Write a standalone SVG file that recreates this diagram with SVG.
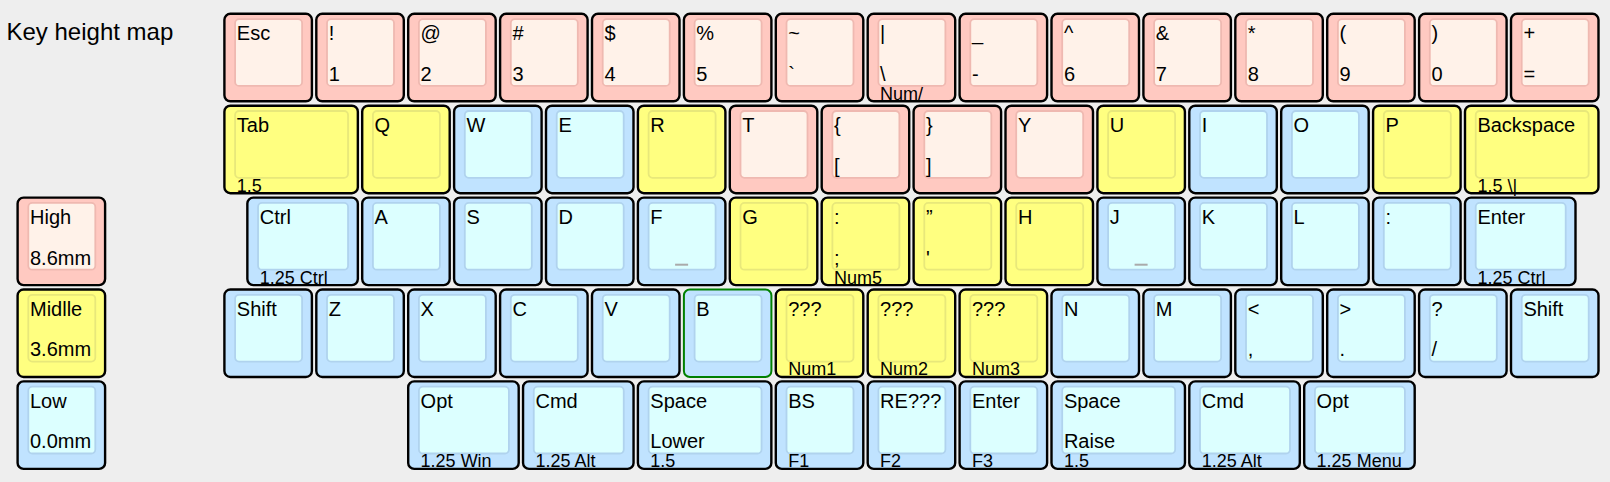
<svg xmlns="http://www.w3.org/2000/svg" width="1610" height="482" viewBox="0 0 1610 482">
<style>
text{font-family:"Liberation Sans",Arial,Helvetica,sans-serif;fill:#000}
.t{font-size:20px}
.f{font-size:18px}
.title{font-size:24px}
.o{stroke:#000;stroke-width:2.4}
.i{stroke-width:1.8}
.hi .o{fill:#ffc9c1}.hi .i{fill:#fff2e9;stroke:#efb9b1}
.mi .o{fill:#ffff80}.mi .i{fill:#ffff80;stroke:#e8e87a}
.lo .o{fill:#c0e3ff}.lo .i{fill:#dcffff;stroke:#b0d3ee}
.sel .o{stroke:#008000;stroke-width:2}
.nub{fill:#aaaaaa}
</style>
<rect width="1610" height="482" fill="#eeeeee"/>
<text class="title" x="6.5" y="40">Key height map</text>

<g id="legend-high" class="hi" transform="translate(16.5,196.5)"><rect class="o" x="1.1" y="1.1" width="87.5" height="87.5" rx="6"/><rect class="i" x="11.8" y="6.4" width="67" height="66.8" rx="4"/><text class="t" x="13.5" y="27.5">High</text><text class="t" x="13.5" y="68">8.6mm</text></g>
<g id="legend-middle" class="mi" transform="translate(16.5,288.4)"><rect class="o" x="1.1" y="1.1" width="87.5" height="87.5" rx="6"/><rect class="i" x="11.8" y="6.4" width="67" height="66.8" rx="4"/><text class="t" x="13.5" y="27.5">Midlle</text><text class="t" x="13.5" y="68">3.6mm</text></g>
<g id="legend-low" class="lo" transform="translate(16.5,380.3)"><rect class="o" x="1.1" y="1.1" width="87.5" height="87.5" rx="6"/><rect class="i" x="11.8" y="6.4" width="67" height="66.8" rx="4"/><text class="t" x="13.5" y="27.5">Low</text><text class="t" x="13.5" y="68">0.0mm</text></g>

<g id="row0">
<g id="k-esc" class="hi" transform="translate(223.3,12.7)"><rect class="o" x="1.1" y="1.1" width="87.5" height="87.5" rx="6"/><rect class="i" x="11.8" y="6.4" width="67" height="66.8" rx="4"/><text class="t" x="13.5" y="27.5">Esc</text></g>
<g id="k-1" class="hi" transform="translate(315.2,12.7)"><rect class="o" x="1.1" y="1.1" width="87.5" height="87.5" rx="6"/><rect class="i" x="11.8" y="6.4" width="67" height="66.8" rx="4"/><text class="t" x="13.5" y="27.5">!</text><text class="t" x="13.5" y="68">1</text></g>
<g id="k-2" class="hi" transform="translate(407.1,12.7)"><rect class="o" x="1.1" y="1.1" width="87.5" height="87.5" rx="6"/><rect class="i" x="11.8" y="6.4" width="67" height="66.8" rx="4"/><text class="t" x="13.5" y="27.5">@</text><text class="t" x="13.5" y="68">2</text></g>
<g id="k-3" class="hi" transform="translate(499,12.7)"><rect class="o" x="1.1" y="1.1" width="87.5" height="87.5" rx="6"/><rect class="i" x="11.8" y="6.4" width="67" height="66.8" rx="4"/><text class="t" x="13.5" y="27.5">#</text><text class="t" x="13.5" y="68">3</text></g>
<g id="k-4" class="hi" transform="translate(590.9,12.7)"><rect class="o" x="1.1" y="1.1" width="87.5" height="87.5" rx="6"/><rect class="i" x="11.8" y="6.4" width="67" height="66.8" rx="4"/><text class="t" x="13.5" y="27.5">$</text><text class="t" x="13.5" y="68">4</text></g>
<g id="k-5" class="hi" transform="translate(682.8,12.7)"><rect class="o" x="1.1" y="1.1" width="87.5" height="87.5" rx="6"/><rect class="i" x="11.8" y="6.4" width="67" height="66.8" rx="4"/><text class="t" x="13.5" y="27.5">%</text><text class="t" x="13.5" y="68">5</text></g>
<g id="k-grave" class="hi" transform="translate(774.7,12.7)"><rect class="o" x="1.1" y="1.1" width="87.5" height="87.5" rx="6"/><rect class="i" x="11.8" y="6.4" width="67" height="66.8" rx="4"/><text class="t" x="13.5" y="27.5">~</text><text class="t" x="13.5" y="68">`</text></g>
<g id="k-bslash" class="hi" transform="translate(866.6,12.7)"><rect class="o" x="1.1" y="1.1" width="87.5" height="87.5" rx="6"/><rect class="i" x="11.8" y="6.4" width="67" height="66.8" rx="4"/><text class="t" x="13.5" y="27.5">|</text><text class="t" x="13.5" y="68">\</text><text class="f" x="13.5" y="87">Num/</text></g>
<g id="k-minus" class="hi" transform="translate(958.5,12.7)"><rect class="o" x="1.1" y="1.1" width="87.5" height="87.5" rx="6"/><rect class="i" x="11.8" y="6.4" width="67" height="66.8" rx="4"/><text class="t" x="13.5" y="27.5">_</text><text class="t" x="13.5" y="68">-</text></g>
<g id="k-6" class="hi" transform="translate(1050.4,12.7)"><rect class="o" x="1.1" y="1.1" width="87.5" height="87.5" rx="6"/><rect class="i" x="11.8" y="6.4" width="67" height="66.8" rx="4"/><text class="t" x="13.5" y="27.5">^</text><text class="t" x="13.5" y="68">6</text></g>
<g id="k-7" class="hi" transform="translate(1142.3,12.7)"><rect class="o" x="1.1" y="1.1" width="87.5" height="87.5" rx="6"/><rect class="i" x="11.8" y="6.4" width="67" height="66.8" rx="4"/><text class="t" x="13.5" y="27.5">&amp;</text><text class="t" x="13.5" y="68">7</text></g>
<g id="k-8" class="hi" transform="translate(1234.2,12.7)"><rect class="o" x="1.1" y="1.1" width="87.5" height="87.5" rx="6"/><rect class="i" x="11.8" y="6.4" width="67" height="66.8" rx="4"/><text class="t" x="13.5" y="27.5">*</text><text class="t" x="13.5" y="68">8</text></g>
<g id="k-9" class="hi" transform="translate(1326.1,12.7)"><rect class="o" x="1.1" y="1.1" width="87.5" height="87.5" rx="6"/><rect class="i" x="11.8" y="6.4" width="67" height="66.8" rx="4"/><text class="t" x="13.5" y="27.5">(</text><text class="t" x="13.5" y="68">9</text></g>
<g id="k-0" class="hi" transform="translate(1418,12.7)"><rect class="o" x="1.1" y="1.1" width="87.5" height="87.5" rx="6"/><rect class="i" x="11.8" y="6.4" width="67" height="66.8" rx="4"/><text class="t" x="13.5" y="27.5">)</text><text class="t" x="13.5" y="68">0</text></g>
<g id="k-equal" class="hi" transform="translate(1509.9,12.7)"><rect class="o" x="1.1" y="1.1" width="87.5" height="87.5" rx="6"/><rect class="i" x="11.8" y="6.4" width="67" height="66.8" rx="4"/><text class="t" x="13.5" y="27.5">+</text><text class="t" x="13.5" y="68">=</text></g>
</g>

<g id="row1">
<g id="k-tab" class="mi" transform="translate(223.3,104.6)"><rect class="o" x="1.1" y="1.1" width="133.45" height="87.5" rx="6"/><rect class="i" x="11.8" y="6.4" width="112.95" height="66.8" rx="4"/><text class="t" x="13.5" y="27.5">Tab</text><text class="f" x="13.5" y="87">1.5</text></g>
<g id="k-q" class="mi" transform="translate(361.1,104.6)"><rect class="o" x="1.1" y="1.1" width="87.5" height="87.5" rx="6"/><rect class="i" x="11.8" y="6.4" width="67" height="66.8" rx="4"/><text class="t" x="13.5" y="27.5">Q</text></g>
<g id="k-w" class="lo" transform="translate(453,104.6)"><rect class="o" x="1.1" y="1.1" width="87.5" height="87.5" rx="6"/><rect class="i" x="11.8" y="6.4" width="67" height="66.8" rx="4"/><text class="t" x="13.5" y="27.5">W</text></g>
<g id="k-e" class="lo" transform="translate(544.9,104.6)"><rect class="o" x="1.1" y="1.1" width="87.5" height="87.5" rx="6"/><rect class="i" x="11.8" y="6.4" width="67" height="66.8" rx="4"/><text class="t" x="13.5" y="27.5">E</text></g>
<g id="k-r" class="mi" transform="translate(636.8,104.6)"><rect class="o" x="1.1" y="1.1" width="87.5" height="87.5" rx="6"/><rect class="i" x="11.8" y="6.4" width="67" height="66.8" rx="4"/><text class="t" x="13.5" y="27.5">R</text></g>
<g id="k-t" class="hi" transform="translate(728.7,104.6)"><rect class="o" x="1.1" y="1.1" width="87.5" height="87.5" rx="6"/><rect class="i" x="11.8" y="6.4" width="67" height="66.8" rx="4"/><text class="t" x="13.5" y="27.5">T</text></g>
<g id="k-lbrace" class="hi" transform="translate(820.6,104.6)"><rect class="o" x="1.1" y="1.1" width="87.5" height="87.5" rx="6"/><rect class="i" x="11.8" y="6.4" width="67" height="66.8" rx="4"/><text class="t" x="13.5" y="27.5">{</text><text class="t" x="13.5" y="68">[</text></g>
<g id="k-rbrace" class="hi" transform="translate(912.5,104.6)"><rect class="o" x="1.1" y="1.1" width="87.5" height="87.5" rx="6"/><rect class="i" x="11.8" y="6.4" width="67" height="66.8" rx="4"/><text class="t" x="13.5" y="27.5">}</text><text class="t" x="13.5" y="68">]</text></g>
<g id="k-y" class="hi" transform="translate(1004.4,104.6)"><rect class="o" x="1.1" y="1.1" width="87.5" height="87.5" rx="6"/><rect class="i" x="11.8" y="6.4" width="67" height="66.8" rx="4"/><text class="t" x="13.5" y="27.5">Y</text></g>
<g id="k-u" class="mi" transform="translate(1096.3,104.6)"><rect class="o" x="1.1" y="1.1" width="87.5" height="87.5" rx="6"/><rect class="i" x="11.8" y="6.4" width="67" height="66.8" rx="4"/><text class="t" x="13.5" y="27.5">U</text></g>
<g id="k-i" class="lo" transform="translate(1188.2,104.6)"><rect class="o" x="1.1" y="1.1" width="87.5" height="87.5" rx="6"/><rect class="i" x="11.8" y="6.4" width="67" height="66.8" rx="4"/><text class="t" x="13.5" y="27.5">I</text></g>
<g id="k-o" class="lo" transform="translate(1280.1,104.6)"><rect class="o" x="1.1" y="1.1" width="87.5" height="87.5" rx="6"/><rect class="i" x="11.8" y="6.4" width="67" height="66.8" rx="4"/><text class="t" x="13.5" y="27.5">O</text></g>
<g id="k-p" class="mi" transform="translate(1372,104.6)"><rect class="o" x="1.1" y="1.1" width="87.5" height="87.5" rx="6"/><rect class="i" x="11.8" y="6.4" width="67" height="66.8" rx="4"/><text class="t" x="13.5" y="27.5">P</text></g>
<g id="k-bksp" class="mi" transform="translate(1463.9,104.6)"><rect class="o" x="1.1" y="1.1" width="133.45" height="87.5" rx="6"/><rect class="i" x="11.8" y="6.4" width="112.95" height="66.8" rx="4"/><text class="t" x="13.5" y="27.5">Backspace</text><text class="f" x="13.5" y="87">1.5 \|</text></g>
</g>

<g id="row2">
<g id="k-ctrl" class="lo" transform="translate(246.25,196.5)"><rect class="o" x="1.1" y="1.1" width="110.5" height="87.5" rx="6"/><rect class="i" x="11.8" y="6.4" width="90" height="66.8" rx="4"/><text class="t" x="13.5" y="27.5">Ctrl</text><text class="f" x="13.5" y="87">1.25 Ctrl</text></g>
<g id="k-a" class="lo" transform="translate(361.1,196.5)"><rect class="o" x="1.1" y="1.1" width="87.5" height="87.5" rx="6"/><rect class="i" x="11.8" y="6.4" width="67" height="66.8" rx="4"/><text class="t" x="13.5" y="27.5">A</text></g>
<g id="k-s" class="lo" transform="translate(453,196.5)"><rect class="o" x="1.1" y="1.1" width="87.5" height="87.5" rx="6"/><rect class="i" x="11.8" y="6.4" width="67" height="66.8" rx="4"/><text class="t" x="13.5" y="27.5">S</text></g>
<g id="k-d" class="lo" transform="translate(544.9,196.5)"><rect class="o" x="1.1" y="1.1" width="87.5" height="87.5" rx="6"/><rect class="i" x="11.8" y="6.4" width="67" height="66.8" rx="4"/><text class="t" x="13.5" y="27.5">D</text></g>
<g id="k-f" class="lo" transform="translate(636.8,196.5)"><rect class="o" x="1.1" y="1.1" width="87.5" height="87.5" rx="6"/><rect class="i" x="11.8" y="6.4" width="67" height="66.8" rx="4"/><rect class="nub" x="38.3" y="67.2" width="13" height="2"/><text class="t" x="13.5" y="27.5">F</text></g>
<g id="k-g" class="mi" transform="translate(728.7,196.5)"><rect class="o" x="1.1" y="1.1" width="87.5" height="87.5" rx="6"/><rect class="i" x="11.8" y="6.4" width="67" height="66.8" rx="4"/><text class="t" x="13.5" y="27.5">G</text></g>
<g id="k-semi" class="mi" transform="translate(820.6,196.5)"><rect class="o" x="1.1" y="1.1" width="87.5" height="87.5" rx="6"/><rect class="i" x="11.8" y="6.4" width="67" height="66.8" rx="4"/><text class="t" x="13.5" y="27.5">:</text><text class="t" x="13.5" y="68">;</text><text class="f" x="13.5" y="87">Num5</text></g>
<g id="k-quote" class="mi" transform="translate(912.5,196.5)"><rect class="o" x="1.1" y="1.1" width="87.5" height="87.5" rx="6"/><rect class="i" x="11.8" y="6.4" width="67" height="66.8" rx="4"/><text class="t" x="13.5" y="27.5">”</text><text class="t" x="13.5" y="68">'</text></g>
<g id="k-h" class="mi" transform="translate(1004.4,196.5)"><rect class="o" x="1.1" y="1.1" width="87.5" height="87.5" rx="6"/><rect class="i" x="11.8" y="6.4" width="67" height="66.8" rx="4"/><text class="t" x="13.5" y="27.5">H</text></g>
<g id="k-j" class="lo" transform="translate(1096.3,196.5)"><rect class="o" x="1.1" y="1.1" width="87.5" height="87.5" rx="6"/><rect class="i" x="11.8" y="6.4" width="67" height="66.8" rx="4"/><rect class="nub" x="38.3" y="67.2" width="13" height="2"/><text class="t" x="13.5" y="27.5">J</text></g>
<g id="k-k" class="lo" transform="translate(1188.2,196.5)"><rect class="o" x="1.1" y="1.1" width="87.5" height="87.5" rx="6"/><rect class="i" x="11.8" y="6.4" width="67" height="66.8" rx="4"/><text class="t" x="13.5" y="27.5">K</text></g>
<g id="k-l" class="lo" transform="translate(1280.1,196.5)"><rect class="o" x="1.1" y="1.1" width="87.5" height="87.5" rx="6"/><rect class="i" x="11.8" y="6.4" width="67" height="66.8" rx="4"/><text class="t" x="13.5" y="27.5">L</text></g>
<g id="k-colon" class="lo" transform="translate(1372,196.5)"><rect class="o" x="1.1" y="1.1" width="87.5" height="87.5" rx="6"/><rect class="i" x="11.8" y="6.4" width="67" height="66.8" rx="4"/><text class="t" x="13.5" y="27.5">:</text></g>
<g id="k-enter" class="lo" transform="translate(1463.9,196.5)"><rect class="o" x="1.1" y="1.1" width="110.5" height="87.5" rx="6"/><rect class="i" x="11.8" y="6.4" width="90" height="66.8" rx="4"/><text class="t" x="13.5" y="27.5">Enter</text><text class="f" x="13.5" y="87">1.25 Ctrl</text></g>
</g>

<g id="row3">
<g id="k-lshift" class="lo" transform="translate(223.3,288.4)"><rect class="o" x="1.1" y="1.1" width="87.5" height="87.5" rx="6"/><rect class="i" x="11.8" y="6.4" width="67" height="66.8" rx="4"/><text class="t" x="13.5" y="27.5">Shift</text></g>
<g id="k-z" class="lo" transform="translate(315.2,288.4)"><rect class="o" x="1.1" y="1.1" width="87.5" height="87.5" rx="6"/><rect class="i" x="11.8" y="6.4" width="67" height="66.8" rx="4"/><text class="t" x="13.5" y="27.5">Z</text></g>
<g id="k-x" class="lo" transform="translate(407.1,288.4)"><rect class="o" x="1.1" y="1.1" width="87.5" height="87.5" rx="6"/><rect class="i" x="11.8" y="6.4" width="67" height="66.8" rx="4"/><text class="t" x="13.5" y="27.5">X</text></g>
<g id="k-c" class="lo" transform="translate(499,288.4)"><rect class="o" x="1.1" y="1.1" width="87.5" height="87.5" rx="6"/><rect class="i" x="11.8" y="6.4" width="67" height="66.8" rx="4"/><text class="t" x="13.5" y="27.5">C</text></g>
<g id="k-v" class="lo" transform="translate(590.9,288.4)"><rect class="o" x="1.1" y="1.1" width="87.5" height="87.5" rx="6"/><rect class="i" x="11.8" y="6.4" width="67" height="66.8" rx="4"/><text class="t" x="13.5" y="27.5">V</text></g>
<g id="k-b" class="lo sel" transform="translate(682.8,288.4)"><rect class="o" x="1.1" y="1.1" width="87.5" height="87.5" rx="6"/><rect class="i" x="11.8" y="6.4" width="67" height="66.8" rx="4"/><text class="t" x="13.5" y="27.5">B</text></g>
<g id="k-num1" class="mi" transform="translate(774.7,288.4)"><rect class="o" x="1.1" y="1.1" width="87.5" height="87.5" rx="6"/><rect class="i" x="11.8" y="6.4" width="67" height="66.8" rx="4"/><text class="t" x="13.5" y="27.5">???</text><text class="f" x="13.5" y="87">Num1</text></g>
<g id="k-num2" class="mi" transform="translate(866.6,288.4)"><rect class="o" x="1.1" y="1.1" width="87.5" height="87.5" rx="6"/><rect class="i" x="11.8" y="6.4" width="67" height="66.8" rx="4"/><text class="t" x="13.5" y="27.5">???</text><text class="f" x="13.5" y="87">Num2</text></g>
<g id="k-num3" class="mi" transform="translate(958.5,288.4)"><rect class="o" x="1.1" y="1.1" width="87.5" height="87.5" rx="6"/><rect class="i" x="11.8" y="6.4" width="67" height="66.8" rx="4"/><text class="t" x="13.5" y="27.5">???</text><text class="f" x="13.5" y="87">Num3</text></g>
<g id="k-n" class="lo" transform="translate(1050.4,288.4)"><rect class="o" x="1.1" y="1.1" width="87.5" height="87.5" rx="6"/><rect class="i" x="11.8" y="6.4" width="67" height="66.8" rx="4"/><text class="t" x="13.5" y="27.5">N</text></g>
<g id="k-m" class="lo" transform="translate(1142.3,288.4)"><rect class="o" x="1.1" y="1.1" width="87.5" height="87.5" rx="6"/><rect class="i" x="11.8" y="6.4" width="67" height="66.8" rx="4"/><text class="t" x="13.5" y="27.5">M</text></g>
<g id="k-comma" class="lo" transform="translate(1234.2,288.4)"><rect class="o" x="1.1" y="1.1" width="87.5" height="87.5" rx="6"/><rect class="i" x="11.8" y="6.4" width="67" height="66.8" rx="4"/><text class="t" x="13.5" y="27.5">&lt;</text><text class="t" x="13.5" y="68">,</text></g>
<g id="k-period" class="lo" transform="translate(1326.1,288.4)"><rect class="o" x="1.1" y="1.1" width="87.5" height="87.5" rx="6"/><rect class="i" x="11.8" y="6.4" width="67" height="66.8" rx="4"/><text class="t" x="13.5" y="27.5">&gt;</text><text class="t" x="13.5" y="68">.</text></g>
<g id="k-slash" class="lo" transform="translate(1418,288.4)"><rect class="o" x="1.1" y="1.1" width="87.5" height="87.5" rx="6"/><rect class="i" x="11.8" y="6.4" width="67" height="66.8" rx="4"/><text class="t" x="13.5" y="27.5">?</text><text class="t" x="13.5" y="68">/</text></g>
<g id="k-rshift" class="lo" transform="translate(1509.9,288.4)"><rect class="o" x="1.1" y="1.1" width="87.5" height="87.5" rx="6"/><rect class="i" x="11.8" y="6.4" width="67" height="66.8" rx="4"/><text class="t" x="13.5" y="27.5">Shift</text></g>
</g>

<g id="row4">
<g id="k-lopt" class="lo" transform="translate(407.1,380.3)"><rect class="o" x="1.1" y="1.1" width="110.5" height="87.5" rx="6"/><rect class="i" x="11.8" y="6.4" width="90" height="66.8" rx="4"/><text class="t" x="13.5" y="27.5">Opt</text><text class="f" x="13.5" y="87">1.25 Win</text></g>
<g id="k-lcmd" class="lo" transform="translate(521.95,380.3)"><rect class="o" x="1.1" y="1.1" width="110.5" height="87.5" rx="6"/><rect class="i" x="11.8" y="6.4" width="90" height="66.8" rx="4"/><text class="t" x="13.5" y="27.5">Cmd</text><text class="f" x="13.5" y="87">1.25 Alt</text></g>
<g id="k-lspace" class="lo" transform="translate(636.8,380.3)"><rect class="o" x="1.1" y="1.1" width="133.45" height="87.5" rx="6"/><rect class="i" x="11.8" y="6.4" width="112.95" height="66.8" rx="4"/><text class="t" x="13.5" y="27.5">Space</text><text class="t" x="13.5" y="68">Lower</text><text class="f" x="13.5" y="87">1.5</text></g>
<g id="k-bs" class="lo" transform="translate(774.7,380.3)"><rect class="o" x="1.1" y="1.1" width="87.5" height="87.5" rx="6"/><rect class="i" x="11.8" y="6.4" width="67" height="66.8" rx="4"/><text class="t" x="13.5" y="27.5">BS</text><text class="f" x="13.5" y="87">F1</text></g>
<g id="k-re" class="lo" transform="translate(866.6,380.3)"><rect class="o" x="1.1" y="1.1" width="87.5" height="87.5" rx="6"/><rect class="i" x="11.8" y="6.4" width="67" height="66.8" rx="4"/><text class="t" x="13.5" y="27.5">RE???</text><text class="f" x="13.5" y="87">F2</text></g>
<g id="k-enter2" class="lo" transform="translate(958.5,380.3)"><rect class="o" x="1.1" y="1.1" width="87.5" height="87.5" rx="6"/><rect class="i" x="11.8" y="6.4" width="67" height="66.8" rx="4"/><text class="t" x="13.5" y="27.5">Enter</text><text class="f" x="13.5" y="87">F3</text></g>
<g id="k-rspace" class="lo" transform="translate(1050.4,380.3)"><rect class="o" x="1.1" y="1.1" width="133.45" height="87.5" rx="6"/><rect class="i" x="11.8" y="6.4" width="112.95" height="66.8" rx="4"/><text class="t" x="13.5" y="27.5">Space</text><text class="t" x="13.5" y="68">Raise</text><text class="f" x="13.5" y="87">1.5</text></g>
<g id="k-rcmd" class="lo" transform="translate(1188.2,380.3)"><rect class="o" x="1.1" y="1.1" width="110.5" height="87.5" rx="6"/><rect class="i" x="11.8" y="6.4" width="90" height="66.8" rx="4"/><text class="t" x="13.5" y="27.5">Cmd</text><text class="f" x="13.5" y="87">1.25 Alt</text></g>
<g id="k-ropt" class="lo" transform="translate(1303.1,380.3)"><rect class="o" x="1.1" y="1.1" width="110.5" height="87.5" rx="6"/><rect class="i" x="11.8" y="6.4" width="90" height="66.8" rx="4"/><text class="t" x="13.5" y="27.5">Opt</text><text class="f" x="13.5" y="87">1.25 Menu</text></g>
</g>
</svg>
